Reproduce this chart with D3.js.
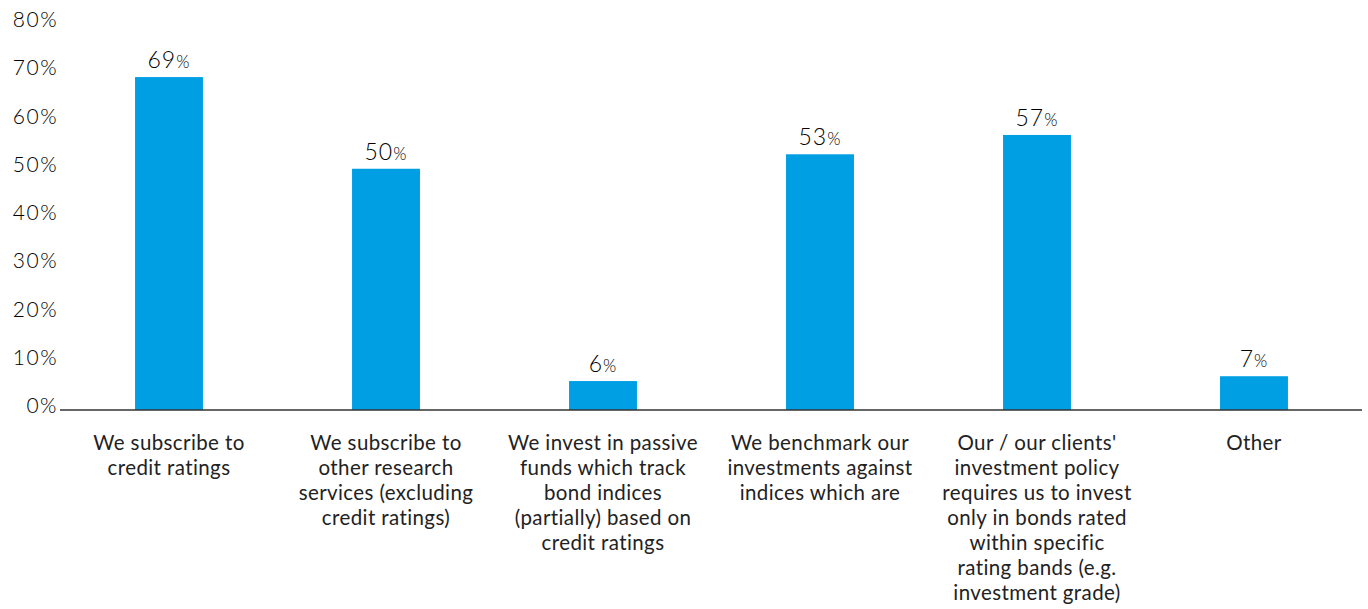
<!DOCTYPE html>
<html>
<head>
<meta charset="utf-8">
<script src="https://cdn.jsdelivr.net/npm/d3@7"></script>
<style>
  html, body { margin: 0; padding: 0; background: #fff; }
  svg { display: block; }
</style>
</head>
<body>
<svg id="chart" width="1368" height="609"></svg>
<script>
const categories = [
  "We subscribe to credit ratings",
  "We subscribe to other research services (excluding credit ratings)",
  "We invest in passive funds which track bond indices (partially) based on credit ratings",
  "We benchmark our investments against indices which are",
  "Our / our clients' investment policy requires us to invest only in bonds rated within specific rating bands (e.g. investment grade)",
  "Other"
];
const categoryLines = [
  ["We subscribe to", "credit ratings"],
  ["We subscribe to", "other research", "services (excluding", "credit ratings)"],
  ["We invest in passive", "funds which track", "bond indices", "(partially) based on", "credit ratings"],
  ["We benchmark our", "investments against", "indices which are"],
  ["Our / our clients'", "investment policy", "requires us to invest", "only in bonds rated", "within specific", "rating bands (e.g.", "investment grade)"],
  ["Other"]
];
const values = [69, 50, 6, 53, 57, 7];
const yTicks = [0, 10, 20, 30, 40, 50, 60, 70, 80];

const svg = d3.select("#chart");
const baseY = 410;
const x = d3.scaleBand()
  .domain(categories)
  .range([60.5, 1362.5])
  .paddingInner(0.687)
  .paddingOuter(0.3435);
const y = d3.scaleLinear().domain([0, 80]).range([baseY, baseY - 386]);

// y-axis labels
const yAxis = d3.axisLeft(y).tickValues(yTicks).tickSize(0).tickPadding(0)
  .tickFormat(d => d + "%");
const gy = svg.append("g").attr("transform", "translate(58,-4)").call(yAxis);
gy.select(".domain").remove();
gy.selectAll("text")
  .attr("font-family", "Lato, 'Open Sans', sans-serif")
  .attr("font-weight", 300)
  .attr("font-size", 21)
  .attr("fill", "#000")
  .attr("letter-spacing", "1.5px");

// bars
svg.append("g").selectAll("rect")
  .data(values)
  .join("rect")
  .attr("x", (d, i) => x(categories[i]))
  .attr("width", x.bandwidth())
  .attr("y", d => y(d))
  .attr("height", d => baseY - y(d))
  .attr("fill", "#009fe3");

// value labels
const vl = svg.append("g").selectAll("text")
  .data(values)
  .join("text")
  .attr("x", (d, i) => x(categories[i]) + x.bandwidth() / 2)
  .attr("y", d => y(d) - 9)
  .attr("text-anchor", "middle")
  .attr("font-family", "Lato, 'Open Sans', sans-serif")
  .attr("font-weight", 300)
  .attr("letter-spacing", "1px")
  .attr("fill", "#000");
vl.append("tspan").attr("font-size", 23).text(d => d);
vl.append("tspan").attr("font-size", 17).text("%");

// x-axis baseline
const xAxis = d3.axisBottom(x).tickSize(0).tickFormat("");
const gx = svg.append("g").attr("transform", `translate(0,${baseY})`).call(xAxis);
gx.select(".domain").attr("stroke", "#333").attr("stroke-width", 1.5)
  .attr("d", "M60,0H1362");

// category labels, one text per line
const cg = svg.append("g");
categories.forEach((c, i) => {
  cg.selectAll(null)
    .data(categoryLines[i])
    .join("text")
    .attr("x", x(c) + x.bandwidth() / 2)
    .attr("y", (line, j) => 450 + j * 25)
    .attr("text-anchor", "middle")
    .attr("font-family", "Lato, 'Open Sans', sans-serif")
    .attr("font-size", 20.5)
    .attr("letter-spacing", "0.4px")
    .attr("fill", "#222")
    .text(line => line);
});
</script>
</body>
</html>
